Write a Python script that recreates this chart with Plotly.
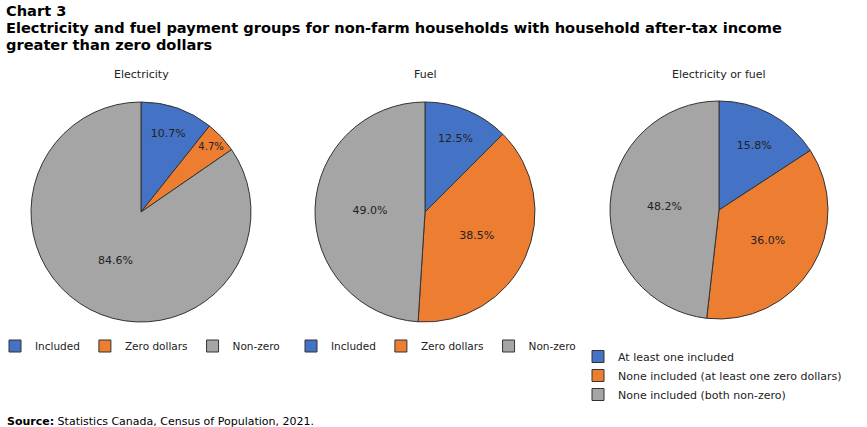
import plotly.graph_objects as go

W, H = 867, 427

elec_labels = ["Included", "Zero dollars", "Non-zero"]
elec_values = [10.7, 4.7, 84.6]
fuel_labels = ["Included", "Zero dollars", "Non-zero"]
fuel_values = [12.5, 38.5, 49.0]
both_labels = ["At least one included", "None included (at least one zero dollars)", "None included (both non-zero)"]
both_values = [15.8, 36.0, 48.2]

colors = ["#4472C4", "#ED7D31", "#A5A5A5"]
FONT = "DejaVu Sans"


def px_dom(cx, cy, r):
    return dict(x=[(cx - r) / W, (cx + r) / W], y=[(H - cy - r) / H, (H - cy + r) / H])


# Plotly merges identical pie labels across traces; an invisible suffix keeps
# the fuel chart's own legend entries separate.
fuel_display = [l + "\u200b" for l in fuel_labels]

fig = go.Figure()
pies = [
    (elec_labels, elec_values, px_dom(141, 212, 110), "legend"),
    (fuel_display, fuel_values, px_dom(425, 212, 110), "legend2"),
    (both_labels, both_values, px_dom(719, 210, 109), "legend3"),
]
for labels, values, dom, leg in pies:
    fig.add_trace(go.Pie(
        labels=labels, values=values, domain=dom, sort=False, direction="clockwise",
        rotation=0, marker=dict(colors=colors, line=dict(color="#333333", width=1)),
        texttemplate="%{value:.1f}%", textposition="inside", insidetextorientation="horizontal",
        textfont=dict(family=FONT, size=11, color="#222222"), hoverinfo="label+value",
        legend=leg, showlegend=True,
    ))

legfont = dict(family=FONT, size=10.5, color="#222222")
fig.update_layout(
    width=W, height=H, margin=dict(l=0, r=0, t=0, b=0, autoexpand=False),
    paper_bgcolor="white", plot_bgcolor="white",
    legend=dict(orientation="h", x=140 / W, y=1 - 346 / H, xanchor="center", yanchor="middle",
                font=legfont, itemwidth=30, bgcolor="rgba(0,0,0,0)"),
    legend2=dict(orientation="h", x=436 / W, y=1 - 346 / H, xanchor="center", yanchor="middle",
                 font=legfont, itemwidth=30, bgcolor="rgba(0,0,0,0)"),
    legend3=dict(orientation="v", x=578 / W, y=1 - 342 / H, xanchor="left", yanchor="top",
                 font=dict(family=FONT, size=11, color="#222222"), itemwidth=30,
                 bgcolor="rgba(0,0,0,0)"),
)

titles = [("Electricity", 141), ("Fuel", 425), ("Electricity or fuel", 719)]
for t, cx in titles:
    fig.add_annotation(text=t, x=cx / W, y=1 - 75 / H, xref="paper", yref="paper",
                       showarrow=False, xanchor="center", yanchor="middle",
                       font=dict(family=FONT, size=11, color="#222222"))

title_lines = [("Chart 3", 10.5), ("Electricity and fuel payment groups for non-farm households with household after-tax income", 27.5),
               ("greater than zero dollars", 44.5)]
for t, cy in title_lines:
    fig.add_annotation(text="<b>" + t + "</b>", x=5 / W, y=1 - cy / H, xref="paper", yref="paper",
                       showarrow=False, xanchor="left", yanchor="middle", borderpad=0,
                       font=dict(family=FONT, size=14.6, color="#000000"))

fig.add_annotation(text="<b>Source:</b> Statistics Canada, Census of Population, 2021.",
                   x=5 / W, y=1 - 421 / H, xref="paper", yref="paper", showarrow=False,
                   xanchor="left", yanchor="middle", font=dict(family=FONT, size=11, color="#000000"))

fig.write_html("out.html")
